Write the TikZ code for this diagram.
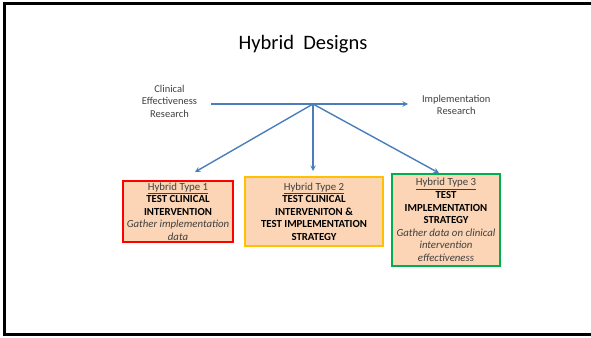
\documentclass[tikz,border=0pt]{standalone}
\usepackage{fontspec}
\setmainfont{Carlito}
\usetikzlibrary{positioning}
\definecolor{peach}{HTML}{FBD5B5}
\definecolor{linkblue}{HTML}{4A7EBB}
\definecolor{typered}{HTML}{FF0000}
\definecolor{typeamber}{HTML}{FFC000}
\definecolor{typegreen}{HTML}{00B050}
\definecolor{labelgray}{HTML}{404040}
\newcommand{\typehead}[1]{{\mdseries\color{labelgray}\underline{#1}}}
\newcommand{\typenote}[1]{{\mdseries\itshape\color{labelgray}#1}}

\begin{document}
\begin{tikzpicture}[x=1pt,y=-1pt,->,>=stealth,line width=1.4pt,
    lbl/.style={align=center,text=labelgray,font=\fontsize{10.5}{12.5}\selectfont},
    hybrid/.style={draw,fill=peach,line width=2pt,align=center,inner sep=0pt,
      font=\fontsize{10.8}{12.6}\selectfont\bfseries}]
  \useasboundingbox (0,0) rectangle (591,337);
  \draw[-,line width=3pt] (591,3.5) -- (4.5,3.5) -- (4.5,334) -- (591,334);

  \node[font=\fontsize{20.5}{24}\selectfont] (title) at (303,44) {Hybrid\ \ Designs};

  \coordinate (start) at (211,104);
  \coordinate (hub)   at (313,104);
  \coordinate (stop)  at (408,104);
  \node[lbl,anchor=east] (cer) at (201,101) {Clinical\\Effectiveness\\Research};
  \node[lbl] (ir) [right=10pt of stop,yshift=-1pt] {Implementation\\Research};

  \node[hybrid,draw=typered,minimum width=110pt,minimum height=61pt]
    (type1) at (178,211.5)
    {\typehead{Hybrid Type 1}\\TEST CLINICAL\\INTERVENTION\\
     \typenote{Gather implementation}\\\typenote{data}};
  \node[hybrid,draw=typeamber,minimum width=138pt,minimum height=69pt]
    (type2) at (314,211.5)
    {\typehead{Hybrid Type 2}\\TEST CLINICAL\\INTERVENITON \&\\
     TEST IMPLEMENTATION\\STRATEGY};
  \node[hybrid,draw=typegreen,minimum width=108pt,minimum height=92pt]
    (type3) at (446,220)
    {\typehead{Hybrid Type 3}\\TEST\\IMPLEMENTATION\\STRATEGY\\
     \typenote{Gather data on clinical}\\\typenote{intervention}\\
     \typenote{effectiveness}};

  \coordinate (tip1) at (195,172);
  \coordinate (tip2) at (313,171);
  \coordinate (tip3) at (439,173);

  \begin{scope}[draw=linkblue]
    \draw (start) -- (stop);
    \draw (hub) -- (tip1);
    \draw (hub) -- (tip2);
    \draw (hub) -- (tip3);
  \end{scope}
\end{tikzpicture}
\end{document}
